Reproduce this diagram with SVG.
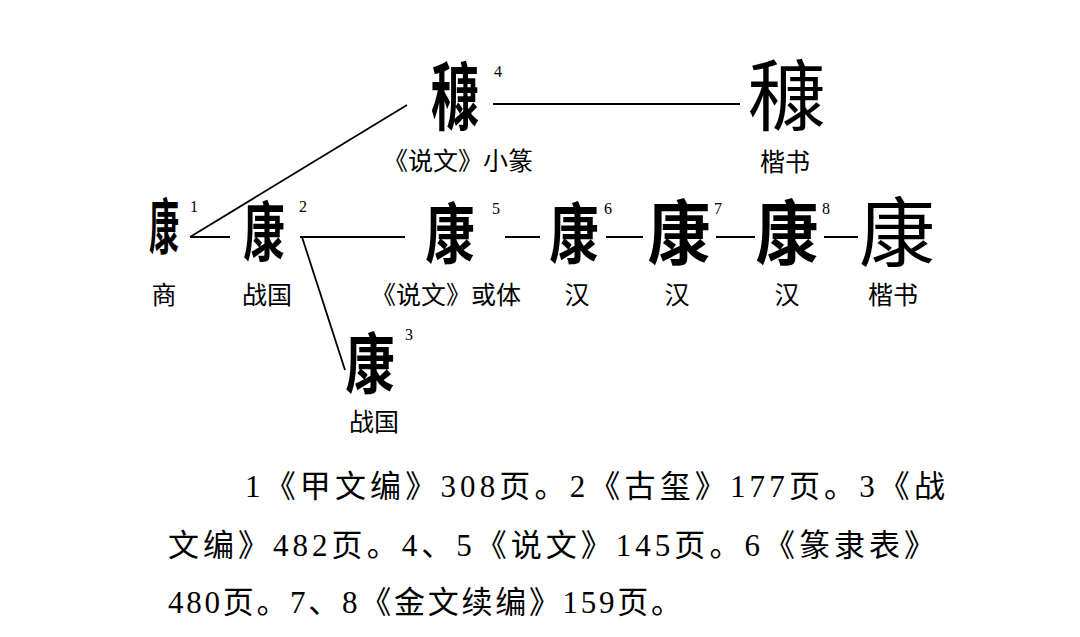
<svg xmlns="http://www.w3.org/2000/svg" width="1080" height="637" viewBox="0 0 1080 637">
<style>
.g{font-family:"Noto Sans CJK SC",sans-serif;font-weight:700;fill:#000;text-anchor:middle}
.k{font-family:"Noto Sans CJK SC",sans-serif;font-weight:400;fill:#000;text-anchor:middle}
.lb{font-family:"Noto Sans CJK SC",sans-serif;font-size:25px;text-anchor:middle;fill:#000}
.sup{font-family:"Liberation Serif",serif;font-size:16px;fill:#000}
.ft{font-family:"Liberation Serif","Noto Sans CJK SC",sans-serif;font-size:31px;fill:#000}
.c{stroke:#000;stroke-width:1.8;fill:none}
</style>
<rect width="1080" height="637" fill="#fff"/>
<g id="connectors">
<line class="c" x1="493" y1="104" x2="740" y2="104"/>
<line class="c" x1="190" y1="237" x2="407" y2="105"/>
<line class="c" x1="190" y1="237" x2="230" y2="237"/>
<line class="c" x1="300" y1="237" x2="405" y2="237"/>
<line class="c" x1="302" y1="237" x2="345" y2="370"/>
<line class="c" x1="505" y1="237" x2="540" y2="237"/>
<line class="c" x1="606" y1="237" x2="643" y2="237"/>
<line class="c" x1="716" y1="237" x2="755" y2="237"/>
<line class="c" x1="824" y1="237" x2="858" y2="237"/>
</g>
<g id="n4">
<text class="g" font-size="74" transform="translate(455,124) scale(0.65,1)">穅</text>
<text class="sup" x="494" y="77">4</text>
<text class="lb" x="458" y="170">《说文》小篆</text>
</g>
<g id="n4k">
<text class="k" font-size="78" transform="translate(787,125)">穅</text>
<text class="lb" x="785" y="171">楷书</text>
</g>
<g id="n1">
<text class="g" font-size="60" transform="translate(164,249) scale(0.5,1)">康</text>
<text class="sup" x="190" y="212">1</text>
<text class="lb" x="164" y="304">商</text>
</g>
<g id="n2">
<text class="g" font-size="64" transform="translate(264,255) scale(0.65,1)">康</text>
<text class="sup" x="299" y="212">2</text>
<text class="lb" x="267" y="304">战国</text>
</g>
<g id="n3">
<text class="g" font-size="66" transform="translate(370,388) scale(0.75,1)">康</text>
<text class="sup" x="405" y="340">3</text>
<text class="lb" x="374" y="431">战国</text>
</g>
<g id="n5">
<text class="g" font-size="66" transform="translate(450,258) scale(0.75,1)">康</text>
<text class="sup" x="492" y="214">5</text>
<text class="lb" x="446" y="304">《说文》或体</text>
</g>
<g id="n6">
<text class="g" font-size="66" transform="translate(574,258) scale(0.75,1)">康</text>
<text class="sup" x="604" y="214">6</text>
<text class="lb" x="577" y="304">汉</text>
</g>
<g id="n7">
<text class="g" font-size="70" transform="translate(679,259) scale(0.9,1)">康</text>
<text class="sup" x="714" y="214">7</text>
<text class="lb" x="677" y="304">汉</text>
</g>
<g id="n8">
<text class="g" font-size="70" transform="translate(787,259) scale(0.9,1)">康</text>
<text class="sup" x="822" y="214">8</text>
<text class="lb" x="787" y="304">汉</text>
</g>
<g id="n9">
<text class="k" font-size="76" transform="translate(897,261)">康</text>
<text class="lb" x="893" y="304">楷书</text>
</g>
<g id="notes">
<text class="ft" x="245" y="497" textLength="700" lengthAdjust="spacing">1《甲文编》308页。2《古玺》177页。3《战</text>
<text class="ft" x="168" y="556" textLength="767" lengthAdjust="spacing">文编》482页。4、5《说文》145页。6《篆隶表》</text>
<text class="ft" x="168" y="613" textLength="514" lengthAdjust="spacing">480页。7、8《金文续编》159页。</text>
</g>
</svg>
